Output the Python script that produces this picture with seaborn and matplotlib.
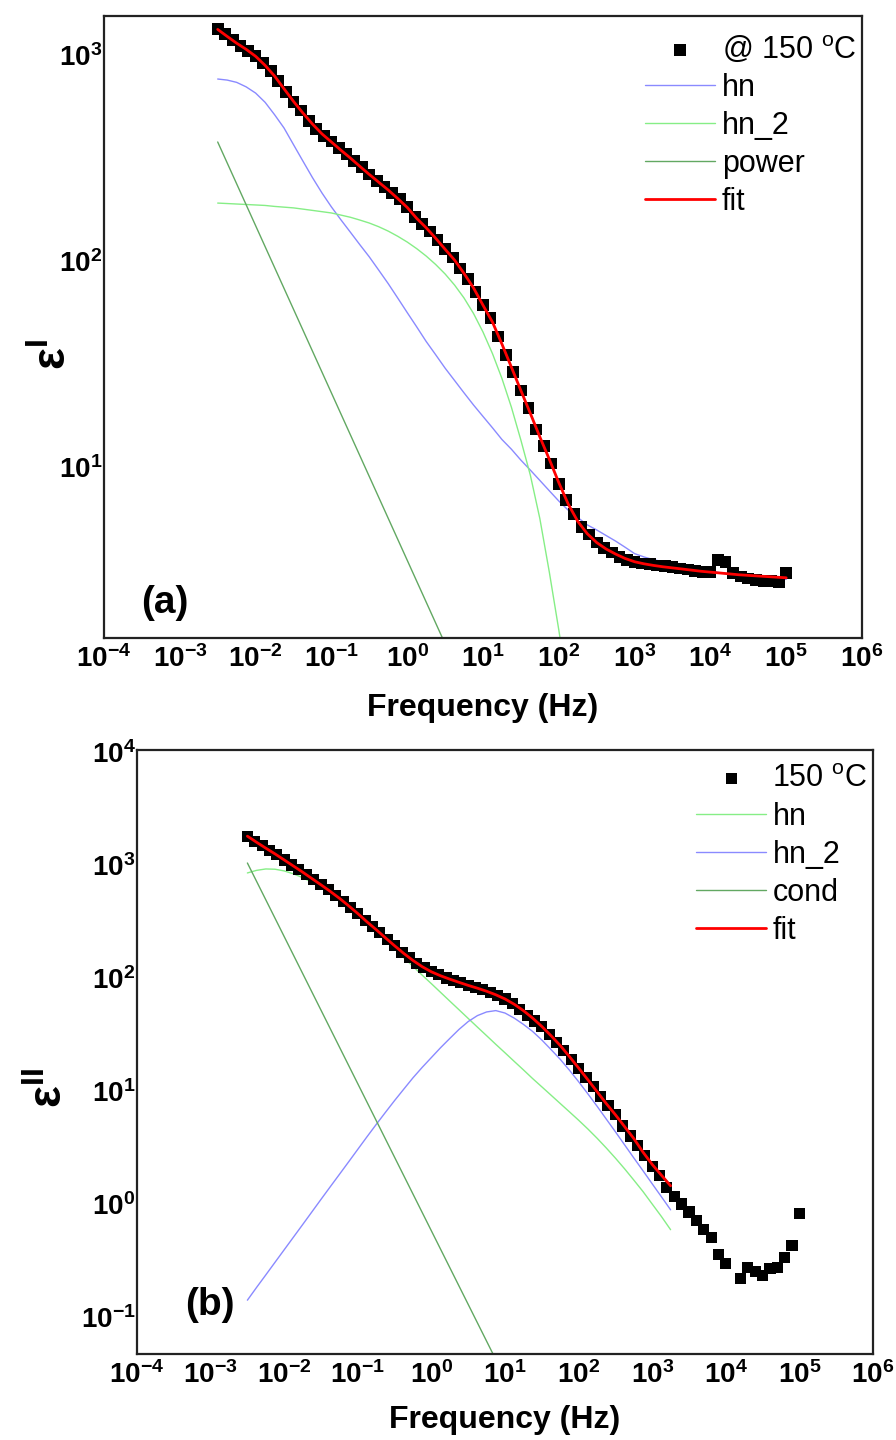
import numpy as np
import pandas as pd
import matplotlib
matplotlib.use("Agg")
import matplotlib.pyplot as plt
import seaborn as sns
from matplotlib.ticker import FixedLocator, NullLocator, FuncFormatter

# ---------------- data ----------------
# measured frequencies (Hz), 10 points per decade
freq = [0.003162, 0.003981, 0.005012, 0.006310, 0.007943,
        0.01, 0.01259, 0.01585, 0.01995, 0.02512, 0.03162, 0.03981, 0.05012, 0.06310, 0.07943,
        0.1, 0.1259, 0.1585, 0.1995, 0.2512, 0.3162, 0.3981, 0.5012, 0.6310, 0.7943,
        1.0, 1.259, 1.585, 1.995, 2.512, 3.162, 3.981, 5.012, 6.310, 7.943,
        10.0, 12.59, 15.85, 19.95, 25.12, 31.62, 39.81, 50.12, 63.10, 79.43,
        100.0, 125.9, 158.5, 199.5, 251.2, 316.2, 398.1, 501.2, 631.0, 794.3,
        1000.0, 1259.0, 1585.0, 1995.0, 2512.0, 3162.0, 3981.0, 5012.0, 6310.0, 7943.0,
        10000.0, 12590.0, 15850.0, 19950.0, 25120.0, 31620.0, 39810.0, 50120.0, 63100.0, 79430.0,
        100000.0]

# panel (a): real permittivity eps'
eps1_data = [1336, 1259, 1183, 1109, 1047,
             990, 912, 832, 746, 661, 589, 537, 479, 437, 405,
             380, 353, 331, 305, 285, 263, 245, 229, 214, 200,
             182, 164, 151, 139, 126, 114, 104, 92, 82, 71,
             61, 53, 43, 35, 29, 23.5, 19.3, 15.2, 12.6, 10.4,
             8.3, 6.9, 5.9, 5.1, 4.7, 4.3, 4.05, 3.85, 3.67, 3.55,
             3.45, 3.40, 3.37, 3.33, 3.30, 3.26, 3.22, 3.18, 3.14, 3.09,
             3.09, 3.55, 3.47, 3.05, 2.94, 2.88, 2.83, 2.81, 2.79, 2.77,
             3.05]

# frequencies of the fitted curves (Hz), eight per decade
freq_fit = [0.003162, 0.004217, 0.005623, 0.007499,
            0.01, 0.01334, 0.01778, 0.02371, 0.03162, 0.04217, 0.05623, 0.07499,
            0.1, 0.1334, 0.1778, 0.2371, 0.3162, 0.4217, 0.5623, 0.7499,
            1.0, 1.334, 1.778, 2.371, 3.162, 4.217, 5.623, 7.499,
            10.0, 13.34, 17.78, 23.71, 31.62, 42.17, 56.23, 74.99,
            100.0, 133.4, 177.8, 237.1, 316.2, 421.7, 562.3, 749.9,
            1000.0, 1334.0, 1778.0, 2371.0, 3162.0, 4217.0, 5623.0, 7499.0,
            10000.0, 13340.0, 17780.0, 23710.0, 31620.0, 42170.0, 56230.0, 74990.0,
            100000.0]

eps1_fit = [1330, 1230, 1140, 1065,
            985, 890, 790, 685, 595, 522, 462, 414,
            378, 345, 316, 288, 263, 241, 221, 201,
            182, 161, 145, 129, 114, 101, 87, 74,
            61, 50.5, 39.5, 30.5, 23.5, 18.2, 14.0, 10.9,
            8.4, 6.6, 5.45, 4.75, 4.3, 4.0, 3.78, 3.6,
            3.47, 3.39, 3.33, 3.28, 3.24, 3.2, 3.16, 3.12,
            3.09, 3.06, 3.03, 3.0, 2.98, 2.96, 2.94, 2.92,
            2.90]

eps1_hn = [764, 755, 736, 700,
           653, 589, 513, 442, 367, 305, 254, 214,
           183, 158.5, 138, 120, 104.7, 90.2, 77.6, 66.1,
           56.2, 47.9, 40.7, 35.1, 30.2, 26.3, 22.9, 20.0,
           17.6, 15.5, 13.6, 12.2, 10.8, 9.66, 8.61, 7.67,
           6.84, 6.17, 5.69, 5.24, 4.95, 4.65, 4.37, 4.08,
           3.80, 3.66, 3.55, 3.47, 3.39, 3.31, 3.24, 3.18,
           3.13, 3.07, 3.02, 2.98, 2.95, 2.91, 2.88, 2.86,
           2.85]

eps1_hn2 = [191, 190, 189, 188,
            187, 186, 184, 182.5, 181, 178.5, 176, 173.5,
            171, 167, 163, 158, 152.8, 146.6, 139.6, 131.8,
            123.6, 114.8, 105.7, 96.2, 86.5, 76.4, 66.1, 55.6,
            45.2, 35.5, 26.9, 19.5, 13.5, 9.12, 5.62, 3.09,
            1.62, 0.81]

freq_pow = [0.003162, 0.1, 3.981]
eps1_pow = [378, 22.9, 1.15]

# panel (b): imaginary permittivity eps''
eps2_data = [1778, 1622, 1479, 1349, 1230,
             1109, 1000, 912, 822, 741, 668, 603, 537, 479, 422,
             372, 324, 285, 251, 219, 193, 168, 151, 135, 123,
             115, 107, 100, 95.5, 91.2, 86.1, 83.2, 78.5, 74.1, 70.0,
             65.3, 59.6, 52.5, 46.8, 41.7, 37.2, 31.6, 26.9, 22.9, 19.1,
             15.8, 13.2, 11.0, 8.9, 7.4, 6.2, 4.9, 4.0, 3.3, 2.7,
             2.14, 1.78, 1.41, 1.17, 1.0, 0.85, 0.71, 0.60, 0.51, 0.355,
             0.30, np.nan, 0.219, 0.275, 0.251, 0.234, 0.269, 0.275, 0.339, 0.427,
             0.83]

eps2_fit = [1800, 1590, 1410, 1255,
            1109, 980, 866, 760, 668, 585, 508, 436,
            372, 314, 268, 227, 193, 165, 143, 126,
            113.5, 104.7, 97.7, 91.6, 86.1, 81.3, 76.4, 71.1,
            65.3, 58.6, 51.5, 44.2, 37.3, 30.9, 25.3, 20.2,
            16.0, 12.6, 9.89, 7.76, 6.17, 4.84, 3.80, 2.88,
            2.24, 1.80, 1.45]

eps2_hn = [851, 897, 923, 918,
           887, 836, 773, 705, 631, 562, 494, 429,
           363, 305, 257, 215, 181, 151, 127, 106,
           89.1, 74.6, 62.5, 52.4, 43.9, 36.8, 30.9, 25.9,
           21.8, 18.3, 15.4, 12.9, 10.9, 9.20, 7.76, 6.55,
           5.52, 4.62, 3.83, 3.14, 2.55, 2.05, 1.63, 1.29,
           1.00, 0.776, 0.593]

eps2_hn2 = [0.141, 0.183, 0.236, 0.305,
            0.394, 0.509, 0.657, 0.85, 1.10, 1.42, 1.83, 2.36,
            3.05, 3.94, 5.06, 6.47, 8.24, 10.4, 13.1, 16.2,
            19.8, 24.2, 29.2, 35.1, 41.2, 46.5, 50.1, 51.5,
            49.0, 44.2, 38.9, 33.7, 28.3, 23.3, 19.1, 15.3,
            12.1, 9.46, 7.35, 5.66, 4.36, 3.34, 2.56, 1.97,
            1.51, 1.16, 0.889]

freq_cond = [0.003162, 0.1, 8.91]
eps2_cond = [1042, 11.6, 0.0336]

xticks = [1e-4, 1e-3, 1e-2, 1e-1, 1e0, 1e1, 1e2, 1e3, 1e4, 1e5, 1e6]
yticks_a = [1e1, 1e2, 1e3]
yticks_b = [1e-1, 1e0, 1e1, 1e2, 1e3, 1e4]

# ---------------- style ----------------
sns.set_style("white")
plt.rcParams["font.family"] = ["Liberation Sans", "DejaVu Sans"]
plt.rcParams["mathtext.fontset"] = "custom"
plt.rcParams["mathtext.rm"] = "Liberation Sans"
plt.rcParams["mathtext.bf"] = "Liberation Sans:bold"
plt.rcParams["mathtext.it"] = "Liberation Sans:italic"
plt.rcParams["text.color"] = "black"
plt.rcParams["axes.labelcolor"] = "black"
plt.rcParams["xtick.color"] = "black"
plt.rcParams["ytick.color"] = "black"

C_BLUE = "#8a8aff"
C_LGREEN = "#86ee86"
C_DGREEN = "#62a862"
C_RED = "#ff0000"

fig = plt.figure(figsize=(8.96, 14.4), dpi=100)
ax1 = fig.add_axes([104 / 896, 1 - 638 / 1440, 758 / 896, 622 / 1440])
ax2 = fig.add_axes([137 / 896, 1 - 1354 / 1440, 736 / 896, 604 / 1440])

df_a = pd.DataFrame({"f": freq, "e": eps1_data})
df_b = pd.DataFrame({"f": freq, "e": eps2_data}).dropna()


def line(ax, x, y, color, lw, label, z):
    n = min(len(x), len(y))
    d = pd.DataFrame({"x": x[:n], "y": y[:n]}).dropna()
    sns.lineplot(data=d, x="x", y="y", ax=ax, color=color, lw=lw, label=label,
                 zorder=z, sort=True, estimator=None)


def fmt(v, pos):
    e = int(round(np.log10(v)))
    return r"$\mathbf{10^{%d}}$" % e


# ---- panel (a)
line(ax1, freq_fit, eps1_hn, C_BLUE, 1.0, "hn", 2)
line(ax1, freq_fit, eps1_hn2, C_LGREEN, 1.0, "hn_2", 2)
line(ax1, freq_pow, eps1_pow, C_DGREEN, 1.0, "power", 2)
sns.scatterplot(data=df_a, x="f", y="e", ax=ax1, marker="s", s=72, color="black",
                edgecolor="none", linewidth=0, label=r"@ 150 $^{\mathrm{o}}$C", zorder=3)
line(ax1, freq_fit, eps1_fit, C_RED, 2.0, "fit", 4)

# ---- panel (b)
line(ax2, freq_fit, eps2_hn, C_LGREEN, 1.0, "hn", 2)
line(ax2, freq_fit, eps2_hn2, C_BLUE, 1.0, "hn_2", 2)
line(ax2, freq_cond, eps2_cond, C_DGREEN, 1.0, "cond", 2)
sns.scatterplot(data=df_b, x="f", y="e", ax=ax2, marker="s", s=64, color="black",
                edgecolor="none", linewidth=0, label=r"150 $^{\mathrm{o}}$C", zorder=3)
line(ax2, freq_fit, eps2_fit, C_RED, 2.0, "fit", 4)

for ax, yt, ylim in [(ax1, yticks_a, (1.48, 1545)), (ax2, yticks_b, (0.0471, 10420))]:
    ax.set_xscale("log")
    ax.set_yscale("log")
    ax.set_xlim(1e-4, 1e6)
    ax.set_ylim(*ylim)
    ax.xaxis.set_major_locator(FixedLocator(xticks))
    ax.yaxis.set_major_locator(FixedLocator(yt))
    ax.xaxis.set_minor_locator(NullLocator())
    ax.yaxis.set_minor_locator(NullLocator())
    ax.xaxis.set_major_formatter(FuncFormatter(fmt))
    ax.yaxis.set_major_formatter(FuncFormatter(fmt))
    ax.tick_params(axis="both", which="both", length=0, labelsize=20, colors="black")
    ax.tick_params(axis="x", pad=5)
    ax.tick_params(axis="y", pad=1)
    for sp in ax.spines.values():
        sp.set_visible(True)
        sp.set_linewidth(1.6)
        sp.set_color("#222222")
    ax.set_xlabel("Frequency (Hz)", fontsize=23, fontweight="bold")
    ax.set_facecolor("white")

ax1.xaxis.set_label_coords(0.499, -0.088)
ax2.xaxis.set_label_coords(0.5, -0.084)

ax1.set_ylabel(r"ε$^{\mathbf{I}}$", fontsize=33, fontweight="bold")
ax2.set_ylabel(r"ε$^{\mathbf{II}}$", fontsize=33, fontweight="bold")
ax1.yaxis.set_label_coords(-0.037, 0.455)
ax2.yaxis.set_label_coords(-0.088, 0.44)

ax1.text(0.080, 0.056, "(a)", transform=ax1.transAxes, fontsize=28, fontweight="bold",
         ha="center", va="center")
ax2.text(0.099, 0.081, "(b)", transform=ax2.transAxes, fontsize=28, fontweight="bold",
         ha="center", va="center")


def make_legend(ax, anchor):
    h, l = ax.get_legend_handles_labels()
    order = [3, 0, 1, 2, 4]
    ax.legend([h[i] for i in order], [l[i] for i in order], loc="upper left",
              bbox_to_anchor=anchor, frameon=False, fontsize=22, borderpad=0,
              borderaxespad=0, handlelength=2.3, handletextpad=0.2, labelspacing=0.26,
              scatterpoints=1)


make_legend(ax1, (0.714, 0.971))
make_legend(ax2, (0.7595, 0.977))

fig.savefig("out.png", dpi=100, facecolor="white")
